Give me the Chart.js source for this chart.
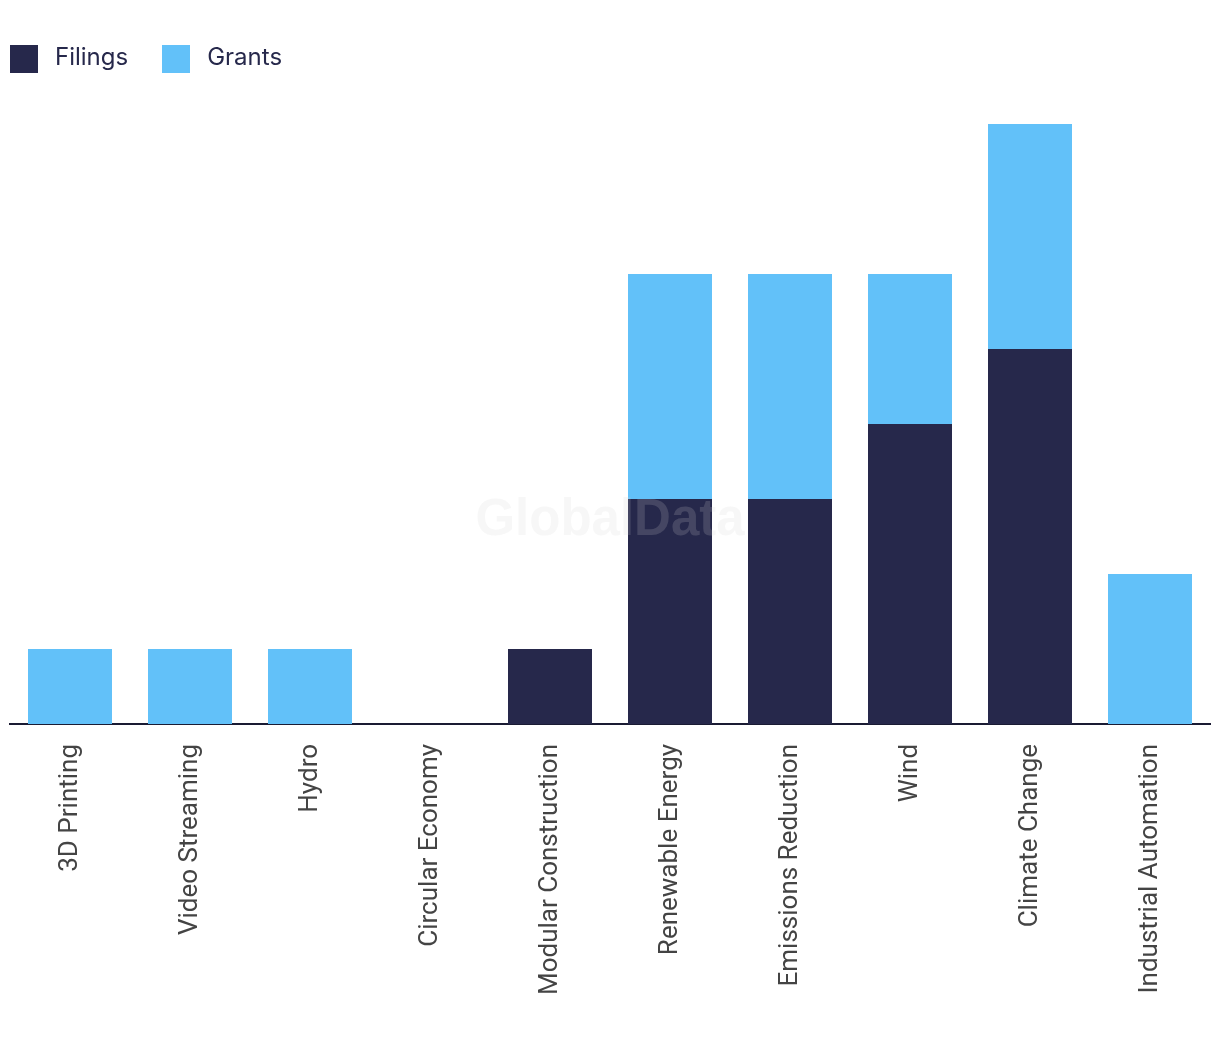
<!DOCTYPE html>
<html>
<head>
<meta charset="utf-8">
<script src="https://cdn.jsdelivr.net/npm/chart.js@4"></script>
<style>
html,body{margin:0;padding:0;background:#fff;}
#wrap{width:1220px;height:1042px;position:relative;}
#legend{position:absolute;left:10px;top:45px;height:28px;display:flex;align-items:center;font-family:Inter,"Open Sans",sans-serif;font-size:24px;line-height:28px;color:#26284b;}
.item{display:flex;align-items:center;margin-right:34px;}
.item span{position:relative;top:-2px;}
.box{width:28px;height:28px;margin-right:17px;}
</style>
</head>
<body>
<div id="wrap"><canvas id="c"></canvas><div id="legend"></div></div>
<script>
const categories = ["3D Printing","Video Streaming","Hydro","Circular Economy","Modular Construction","Renewable Energy","Emissions Reduction","Wind","Climate Change","Industrial Automation"];
const filings = [0,0,0,0,1,3,3,4,5,0];
const grants  = [1,1,1,0,0,3,3,2,3,2];
const seriesNames = ["Filings","Grants"];
const seriesColors = ["#26284b","#62c1f9"];

const watermark = {
  id:'watermark',
  afterDatasetsDraw(chart){
    const ctx = chart.ctx;
    ctx.save();
    ctx.font = 'bold 51px "Liberation Sans", Arial, sans-serif';
    ctx.fillStyle = 'rgba(209,209,209,0.18)';
    ctx.textAlign = 'center';
    ctx.textBaseline = 'middle';
    ctx.fillText('GlobalData', 610, 521);
    ctx.restore();
  }
};

const chart = new Chart(document.getElementById('c'), {
  type:'bar',
  data:{
    labels: categories,
    datasets:[
      {label:seriesNames[0], data: filings, backgroundColor:seriesColors[0], barPercentage:0.7, categoryPercentage:1},
      {label:seriesNames[1], data: grants, backgroundColor:seriesColors[1], barPercentage:0.7, categoryPercentage:1}
    ]
  },
  options:{
    responsive:true,
    maintainAspectRatio:false,
    animation:false,
    layout:{padding:{left:10,right:10,top:124,bottom:27}},
    plugins:{
      legend:{display:false},
      tooltip:{enabled:false}
    },
    scales:{
      x:{stacked:true,
        grid:{display:false, drawTicks:false},
        border:{display:true,color:'#1a1b33',width:2},
        ticks:{minRotation:90,maxRotation:90,padding:20,color:'#444',
          font:{family:'Roboto, "Liberation Sans", sans-serif', size:26}}
      },
      y:{stacked:true, display:false, min:0, max:8}
    }
  },
  plugins:[watermark]
});

const lg = document.getElementById('legend');
chart.data.datasets.forEach(ds => {
  const it = document.createElement('div'); it.className='item';
  const b = document.createElement('div'); b.className='box'; b.style.background = ds.backgroundColor;
  const t = document.createElement('span'); t.textContent = ds.label;
  it.appendChild(b); it.appendChild(t); lg.appendChild(it);
});
</script>
</body>
</html>
